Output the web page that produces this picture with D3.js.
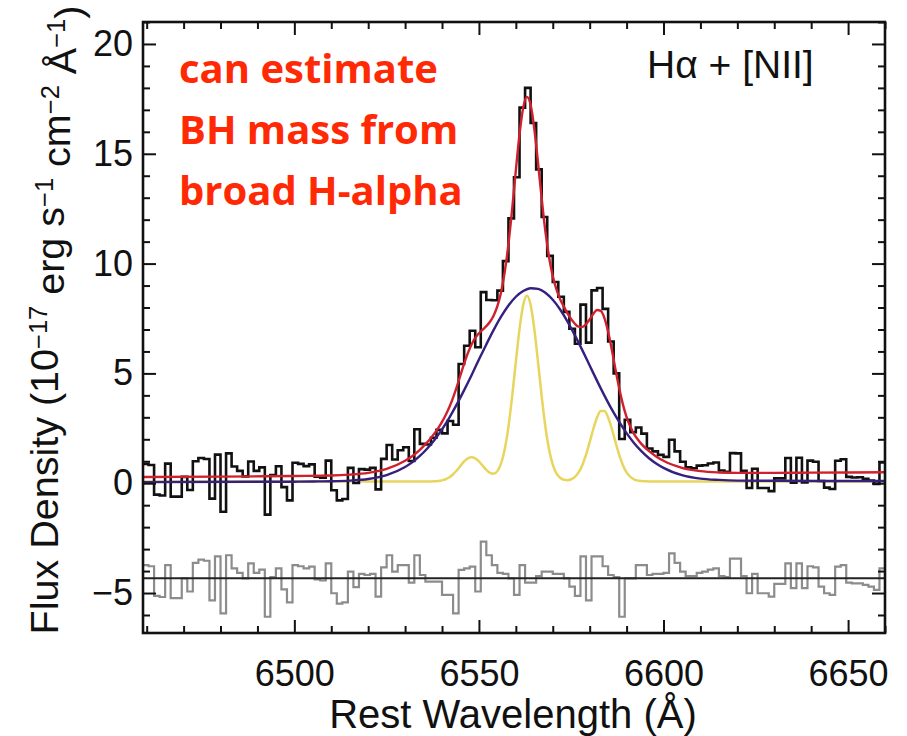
<!DOCTYPE html>
<html lang="en">
<head>
<meta charset="UTF-8">
<title>H-alpha + [NII] fit</title>
<script src="https://d3js.org/d3.v7.min.js"></script>
<style>
  body { margin: 0; background: #fff; }
  svg { display: block; }
  .tick text { font-family: "Liberation Sans", Arial, Helvetica, sans-serif; }
</style>
</head>
<body>
<div id="chart"></div>
<script>
// observed spectrum, 1.5 A bins starting at 6459 A
const binStart = 6459;
const binWidth = 1.5;
const flux = [
  0.88, 0.83, -0.52, -0.56, 0.89, -0.61, -0.61, 0.29, -0.31, 1.00,
  1.15, 1.10, -0.70, 1.30, -1.30, 1.36, 0.76, 0.56, 0.31, 0.99,
  0.56, 0.72, -1.43, 0.37, 0.77, -0.18, -0.78, 0.93, 0.88, 0.78,
  0.86, 0.30, 0.25, 1.03, -0.32, -0.78, -0.72, 0.70, 0.01, 0.64,
  0.62, 0.70, -0.28, 1.11, 1.74, 1.08, 1.50, 1.64, 1.01, 2.46,
  1.79, 1.76, 2.07, 2.43, 2.27, 2.83, 2.66, 5.43, 6.26, 6.94,
  6.19, 8.70, 8.34, 8.33, 8.77, 10.11, 12.06, 13.93, 17.10, 18.00,
  16.40, 14.29, 12.12, 10.35, 9.16, 8.49, 7.80, 7.03, 6.35, 8.13,
  6.40, 8.78, 8.89, 7.94, 6.45, 5.00, 2.01, 2.89, 2.32, 2.54,
  2.26, 1.58, 1.45, 1.29, 1.20, 1.98, 1.45, 0.98, 0.73, 0.68,
  0.80, 0.82, 0.90, 0.94, 0.58, 0.52, 1.37, 1.36, 0.56, -0.22,
  0.66, -0.22, -0.22, -0.36, 0.22, 0.22, 1.15, 0.02, 1.16, 0.03,
  1.03, 0.98, 0.10, -0.20, -0.26, 1.02, 1.09, 0.29, 0.26, 0.27,
  0.20, 0.12, -0.03, 0.95
];
// residuals (data - model), drawn shifted down
const resid = [
  0.60, 0.55, -0.80, -0.85, 0.60, -0.90, -0.90, 0.00, -0.60, 0.70,
  0.85, 0.80, -1.00, 1.00, -1.60, 1.05, 0.45, 0.25, 0.00, 0.68,
  0.25, 0.40, -1.75, 0.05, 0.45, -0.50, -1.10, 0.60, 0.55, 0.45,
  0.53, -0.05, -0.10, 0.68, -0.68, -1.15, -1.10, 0.30, -0.40, 0.20,
  0.15, 0.20, -0.83, 0.50, 1.05, 0.30, 0.60, 0.60, -0.20, 1.05,
  0.15, -0.15, -0.15, -0.15, -0.75, -0.75, -1.60, 0.38, 0.45, 0.53,
  -0.60, 1.67, 1.05, 0.60, 0.25, 0.20, 0.00, -0.75, 0.60, -0.20,
  -0.20, 0.10, 0.30, 0.30, 0.20, 0.20, 0.00, -0.38, -0.80, 1.00,
  -1.00, 1.00, 1.00, 0.55, 0.15, 0.05, -1.75, 0.00, 0.00, 0.60,
  0.60, 0.15, 0.20, 0.20, 0.25, 1.14, 0.70, 0.30, 0.10, 0.10,
  0.25, 0.30, 0.40, 0.45, 0.10, 0.05, 0.90, 0.90, 0.10, -0.68,
  0.20, -0.68, -0.68, -0.83, -0.25, -0.25, 0.68, -0.45, 0.68, -0.45,
  0.55, 0.50, -0.38, -0.68, -0.75, 0.53, 0.60, -0.20, -0.23, -0.23,
  -0.30, -0.38, -0.53, 0.45
];
const residOffset = -4.33;

// broad H-alpha component (purple)
const broadWave = [6459, 6500, 6505, 6510, 6515, 6520, 6525, 6530, 6532, 6534,
  6536, 6538, 6540, 6542, 6544, 6546, 6548, 6550, 6552, 6554,
  6556, 6558, 6560, 6562, 6564, 6566, 6568, 6570, 6572, 6574,
  6576, 6578, 6580, 6582, 6584, 6586, 6588, 6590, 6592, 6594,
  6596, 6598, 6600, 6605, 6610, 6615, 6620, 6630, 6660];
const broadFlux = [0.05, 0.07, 0.08, 0.09, 0.12, 0.19, 0.37, 0.74, 0.96, 1.24,
  1.58, 1.98, 2.45, 2.99, 3.59, 4.24, 4.92, 5.63, 6.32, 6.98,
  7.58, 8.09, 8.49, 8.75, 8.88, 8.85, 8.67, 8.35, 7.91, 7.36,
  6.73, 6.06, 5.36, 4.66, 3.99, 3.36, 2.79, 2.28, 1.83, 1.46,
  1.15, 0.90, 0.70, 0.37, 0.21, 0.15, 0.12, 0.11, 0.10];

// total model (red)
const totalWave = [6459, 6480, 6500, 6510, 6515, 6520, 6525, 6530, 6532, 6534, 6536,
  6537, 6538, 6539, 6540, 6541, 6542, 6543, 6544, 6545, 6546, 6547,
  6548, 6549, 6550, 6551, 6552, 6553, 6554, 6555, 6556, 6557,
  6558, 6559, 6560, 6561, 6562, 6563, 6564, 6565, 6566, 6567,
  6568, 6569, 6570, 6571, 6572, 6573, 6574, 6575, 6576, 6577,
  6578, 6579, 6580, 6581, 6582, 6583, 6584, 6585, 6586, 6587,
  6588, 6589, 6590, 6591, 6592, 6593, 6594, 6596, 6598, 6600, 6605,
  6610, 6615, 6620, 6630, 6640, 6660];
const totalFlux = [0.28, 0.30, 0.33, 0.35, 0.39, 0.47, 0.65, 1.02, 1.24, 1.52, 1.87,
  2.06, 2.28, 2.52, 2.79, 3.11, 3.47, 3.90, 4.39, 4.92, 5.44, 5.92,
  6.32, 6.62, 6.83, 6.99, 7.15, 7.35, 7.64, 8.06, 8.70, 9.63,
  10.90, 12.48, 14.24, 15.90, 17.11, 17.59, 17.23, 16.14, 14.60, 12.96,
  11.47, 10.29, 9.43, 8.83, 8.38, 8.04, 7.73, 7.47, 7.26, 7.13,
  7.12, 7.24, 7.46, 7.72, 7.89, 7.85, 7.52, 6.90, 6.08, 5.17,
  4.32, 3.59, 3.01, 2.58, 2.25, 2.00, 1.79, 1.47, 1.22, 1.02, 0.70,
  0.55, 0.49, 0.47, 0.47, 0.48, 0.50];

// narrow lines [NII] 6548, H-alpha, [NII] 6583 (yellow)
const narrowWave = [6459, 6537, 6538, 6539, 6540, 6541, 6542, 6543, 6544, 6545, 6546, 6547,
  6548, 6549, 6550, 6551, 6552, 6553, 6554, 6555, 6556, 6557,
  6558, 6559, 6560, 6561, 6562, 6563, 6564, 6565, 6566, 6567,
  6568, 6569, 6570, 6571, 6572, 6573, 6574, 6575, 6576, 6577,
  6578, 6579, 6580, 6581, 6582, 6583, 6584, 6585, 6586, 6587,
  6588, 6589, 6590, 6591, 6592, 6593, 6594, 6595, 6596, 6660];
const narrowFlux = [0.08, 0.08, 0.09, 0.10, 0.13, 0.18, 0.27, 0.41, 0.58, 0.79, 0.99, 1.13,
  1.18, 1.13, 0.99, 0.80, 0.61, 0.47, 0.43, 0.55, 0.90, 1.56,
  2.58, 3.95, 5.53, 7.03, 8.12, 8.53, 8.12, 7.03, 5.53, 3.95,
  2.57, 1.54, 0.85, 0.45, 0.25, 0.16, 0.14, 0.18, 0.29, 0.49,
  0.82, 1.29, 1.87, 2.48, 2.99, 3.29, 3.29, 2.99, 2.48, 1.87,
  1.29, 0.82, 0.49, 0.29, 0.18, 0.12, 0.10, 0.09, 0.08, 0.08];

const xTicks = [6500, 6550, 6600, 6650];
const yTicks = [-5, 0, 5, 10, 15, 20];
const yTickLabels = ["\u22125", "0", "5", "10", "15", "20"];
const noteLines = ["can estimate", "BH mass from", "broad H-alpha"];

// layout
const width = 907;
const height = 736;
const margin = { top: 22, right: 22, bottom: 103, left: 143 };
const innerW = width - margin.left - margin.right;
const innerH = height - margin.top - margin.bottom;

const x = d3.scaleLinear().domain([6459, 6660]).range([0, innerW]);
const y = d3.scaleLinear().domain([-6.82, 21.0]).range([innerH, 0]);

const svg = d3.select("#chart")
  .append("svg")
  .attr("width", width)
  .attr("height", height);

const g = svg.append("g")
  .attr("transform", `translate(${margin.left},${margin.top})`);

g.append("clipPath").attr("id", "plot-clip")
  .append("rect").attr("width", innerW).attr("height", innerH);

const plot = g.append("g").attr("clip-path", "url(#plot-clip)");

// histogram points: left bin edges plus closing edge
function stepPoints(vals, offset) {
  const pts = vals.map((v, i) => [binStart + i * binWidth, v + offset]);
  pts.push([binStart + vals.length * binWidth, vals[vals.length - 1] + offset]);
  return pts;
}

const stepLine = d3.line()
  .x(d => x(d[0]))
  .y(d => y(d[1]))
  .curve(d3.curveStepAfter);

const smoothLine = d3.line()
  .x(d => x(d[0]))
  .y(d => y(d[1]))
  .curve(d3.curveMonotoneX);

// residuals
plot.append("path")
  .attr("d", stepLine(stepPoints(resid, residOffset)))
  .attr("fill", "none")
  .attr("stroke", "#8c8c8c")
  .attr("stroke-width", 2.2);

plot.append("line")
  .attr("x1", 0).attr("x2", innerW)
  .attr("y1", y(residOffset)).attr("y2", y(residOffset))
  .attr("stroke", "#222")
  .attr("stroke-width", 2);

// narrow components
plot.append("path")
  .attr("d", smoothLine(narrowWave.map((w, i) => [w, narrowFlux[i]])))
  .attr("fill", "none")
  .attr("stroke", "#e8d55e")
  .attr("stroke-width", 2.5);

// data
plot.append("path")
  .attr("d", stepLine(stepPoints(flux, 0)))
  .attr("fill", "none")
  .attr("stroke", "#111")
  .attr("stroke-width", 2.6);

// broad component
plot.append("path")
  .attr("d", smoothLine(broadWave.map((w, i) => [w, broadFlux[i]])))
  .attr("fill", "none")
  .attr("stroke", "#36207f")
  .attr("stroke-width", 2.4);

// total model
plot.append("path")
  .attr("d", smoothLine(totalWave.map((w, i) => [w, totalFlux[i]])))
  .attr("fill", "none")
  .attr("stroke", "#d0202e")
  .attr("stroke-width", 2.4);

// axes: inward ticks on all four sides
const xMinor = d3.range(6460, 6661, 10).filter(v => v % 50 !== 0);
const yMinor = d3.range(-6, 22, 1).filter(v => v % 5 !== 0);
const major = 13, minor = 7;

function styleAxis(sel) {
  sel.select(".domain").remove();
  sel.selectAll(".tick line").attr("stroke", "#111").attr("stroke-width", 2);
  sel.selectAll(".tick text")
    .attr("fill", "#111")
    .attr("font-size", 36);
}

g.append("g").attr("transform", `translate(0,${innerH})`)
  .call(d3.axisBottom(x).tickValues(xTicks).tickSize(-major).tickPadding(27).tickFormat(d3.format("d")))
  .call(styleAxis);
g.append("g").attr("transform", `translate(0,${innerH})`)
  .call(d3.axisBottom(x).tickValues(xMinor).tickSize(-minor).tickFormat(""))
  .call(styleAxis);
g.append("g")
  .call(d3.axisTop(x).tickValues(xTicks).tickSize(-major).tickFormat(""))
  .call(styleAxis);
g.append("g")
  .call(d3.axisTop(x).tickValues(xMinor).tickSize(-minor).tickFormat(""))
  .call(styleAxis);

g.append("g")
  .call(d3.axisLeft(y).tickValues(yTicks).tickSize(-major).tickPadding(10)
    .tickFormat((d, i) => yTickLabels[i]))
  .call(styleAxis);
g.append("g")
  .call(d3.axisLeft(y).tickValues(yMinor).tickSize(-minor).tickFormat(""))
  .call(styleAxis);
g.append("g").attr("transform", `translate(${innerW},0)`)
  .call(d3.axisRight(y).tickValues(yTicks).tickSize(-major).tickFormat(""))
  .call(styleAxis);
g.append("g").attr("transform", `translate(${innerW},0)`)
  .call(d3.axisRight(y).tickValues(yMinor).tickSize(-minor).tickFormat(""))
  .call(styleAxis);

// frame
g.append("rect")
  .attr("width", innerW)
  .attr("height", innerH)
  .attr("fill", "none")
  .attr("stroke", "#111")
  .attr("stroke-width", 2.6);

const font = '"Liberation Sans", Arial, Helvetica, sans-serif';

// axis titles
svg.append("text")
  .attr("x", margin.left + innerW / 2 - 1)
  .attr("y", 728)
  .attr("text-anchor", "middle")
  .attr("font-family", font)
  .attr("font-size", 40)
  .attr("fill", "#111")
  .text("Rest Wavelength (\u00C5)");

const yTitle = svg.append("text")
  .attr("transform", "translate(58,320) rotate(-90)")
  .attr("text-anchor", "middle")
  .attr("font-family", font)
  .attr("font-size", 39.5)
  .attr("fill", "#111");

const yParts = [
  ["Flux Density (10", false], ["\u221217", true], [" erg s", false], ["\u22121", true],
  [" cm", false], ["\u22122", true], [" \u00C5", false], ["\u22121", true], [")", false]
];
let raised = false;
yParts.forEach(([t, sup]) => {
  const span = yTitle.append("tspan").text(t);
  if (sup) span.attr("font-size", 25.5);
  if (sup && !raised) { span.attr("dy", "-0.42em"); raised = true; }
  else if (!sup && raised) { span.attr("dy", "0.42em"); raised = false; }
});

// line label
svg.append("text")
  .attr("x", 647)
  .attr("y", 78)
  .attr("font-family", font)
  .attr("font-size", 39)
  .attr("fill", "#111")
  .text("H\u03B1 + [NII]");

// red annotation
svg.append("g").selectAll("text")
  .data(noteLines)
  .join("text")
  .attr("x", 179)
  .attr("y", (d, i) => 83 + i * 61)
  .attr("font-family", '"Open Sans", "Noto Sans", sans-serif')
  .attr("font-weight", 700)
  .attr("font-size", 40)
  .attr("fill", "#ff2a05")
  .text(d => d);
</script>
</body>
</html>
